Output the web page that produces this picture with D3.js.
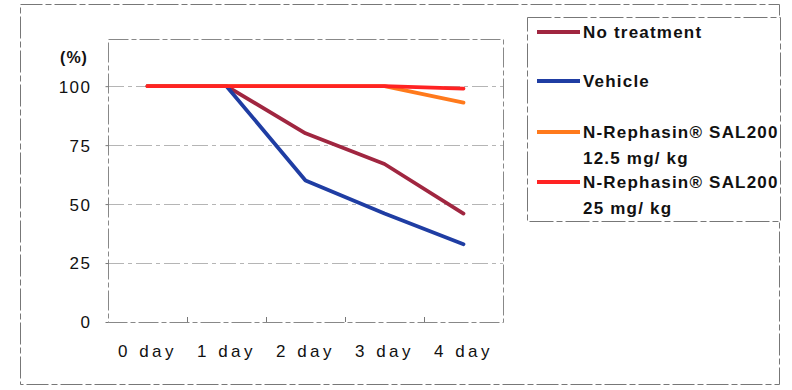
<!DOCTYPE html>
<html>
<head>
<meta charset="utf-8">
<script src="https://cdn.jsdelivr.net/npm/d3@7"></script>
<style>
  body { margin: 0; background: #fff; }
  svg { display: block; }
  .lbl { font-family: "Liberation Sans", Arial, sans-serif; fill: #111; }
</style>
</head>
<body>
<div id="chart"></div>
<script>
var days = ["0 day", "1 day", "2 day", "3 day", "4 day"];
var seriesNames = ["No treatment", "Vehicle", "N-Rephasin® SAL200|12.5 mg/ kg", "N-Rephasin® SAL200|25 mg/ kg"];
var noTreatment = [100, 100, 80, 67, 46];
var vehicle = [100, 100, 60, 46, 33];
var dose125 = [100, 100, 100, 100, 93];
var dose25 = [100, 100, 100, 100, 99];
var yTicks = [0, 25, 50, 75, 100];

var colors = ["#a02640", "#1f3da3", "#ff7a1c", "#ff2323"];
var allSeries = [noTreatment, vehicle, dose125, dose25];

var width = 792, height = 390;
var plot = {left: 108, top: 39, right: 503, bottom: 322};

var svg = d3.select("#chart").append("svg")
  .attr("width", width)
  .attr("height", height);

/* outer frame */
svg.append("rect")
  .attr("x", 20.5).attr("y", 4.5)
  .attr("width", 759).attr("height", 380)
  .attr("fill", "none")
  .attr("stroke", "#777")
  .attr("stroke-width", 1)
  .attr("stroke-dasharray", "22,3,6,3");

/* scales */
var x = d3.scaleBand()
  .domain(days)
  .range([plot.left, plot.right]);

var y = d3.scaleLinear()
  .domain([0, 120])
  .range([plot.bottom, plot.top]);

/* gridlines */
svg.append("g")
  .selectAll("line")
  .data(yTicks.filter(d => d > 0)).enter()
  .append("line")
  .attr("x1", plot.left).attr("x2", plot.right)
  .attr("y1", d => Math.round(y(d)) + 0.5)
  .attr("y2", d => Math.round(y(d)) + 0.5)
  .attr("stroke", "#b5b5b5")
  .attr("stroke-dasharray", "16,4,4,4");

/* plot box */
svg.append("rect")
  .attr("x", plot.left + 0.5).attr("y", plot.top + 0.5)
  .attr("width", plot.right - plot.left).attr("height", plot.bottom - plot.top)
  .attr("fill", "none")
  .attr("stroke", "#888")
  .attr("stroke-dasharray", "20,3,5,3");

/* y axis */
var yAxis = d3.axisLeft(y).tickValues(yTicks).tickSize(3).tickPadding(14);
var gy = svg.append("g")
  .attr("transform", `translate(${plot.left + 0.5},0)`)
  .call(yAxis);
gy.select(".domain").remove();
gy.selectAll(".tick line").attr("stroke", "#777");
gy.selectAll(".tick text")
  .attr("class", "lbl")
  .style("font-size", "17px")
  .style("letter-spacing", "1.5px")
  .attr("dy", "0.35em");

svg.append("text")
  .attr("class", "lbl")
  .attr("x", 74).attr("y", 63)
  .attr("text-anchor", "middle")
  .style("font-size", "16px")
  .style("font-weight", "bold")
  .style("letter-spacing", "1px")
  .text("(%)");

/* x axis */
var xAxis = d3.axisBottom(x).tickSize(0).tickPadding(22);
var gx = svg.append("g")
  .attr("transform", `translate(0,${plot.bottom + 0.5})`)
  .call(xAxis);
gx.select(".domain").remove();
gx.selectAll(".tick text")
  .attr("class", "lbl")
  .style("font-size", "17px")
  .style("letter-spacing", "3.5px");

/* small inner ticks at category boundaries */
svg.append("g")
  .selectAll("line")
  .data(days.slice(1)).enter()
  .append("line")
  .attr("x1", d => Math.round(x(d)) + 0.5)
  .attr("x2", d => Math.round(x(d)) + 0.5)
  .attr("y1", plot.bottom)
  .attr("y2", plot.bottom - 5)
  .attr("stroke", "#777");

/* lines */
var line = d3.line()
  .x((d, i) => x(days[i]) + x.bandwidth() / 2)
  .y(d => y(d));

svg.append("g")
  .selectAll("path")
  .data(allSeries).enter()
  .append("path")
  .attr("d", d => line(d))
  .attr("fill", "none")
  .attr("stroke", (d, i) => colors[i])
  .attr("stroke-width", 3.8)
  .attr("stroke-linecap", "round")
  .attr("stroke-linejoin", "round");

/* legend */
var legend = svg.append("g");
legend.append("rect")
  .attr("x", 527.5).attr("y", 17.5)
  .attr("width", 253).attr("height", 204)
  .attr("fill", "#fff")
  .attr("stroke", "#777")
  .attr("stroke-dasharray", "24,3,6,3");

var legendY = [32, 81, 132, 182];
var item = legend.selectAll(".item")
  .data(seriesNames).enter()
  .append("g")
  .attr("class", "item")
  .attr("transform", (d, i) => `translate(0,${legendY[i]})`);

item.append("line")
  .attr("x1", 537).attr("x2", 580)
  .attr("stroke", (d, i) => colors[i])
  .attr("stroke-width", 3.8);

item.append("text")
  .attr("class", "lbl")
  .style("font-size", "17px")
  .style("font-weight", "bold")
  .style("letter-spacing", "1.2px")
  .selectAll("tspan")
  .data(d => d.split("|")).enter()
  .append("tspan")
  .attr("x", 583)
  .attr("y", (d, i) => 6 + i * 26)
  .text(d => d);
</script>
</body>
</html>
